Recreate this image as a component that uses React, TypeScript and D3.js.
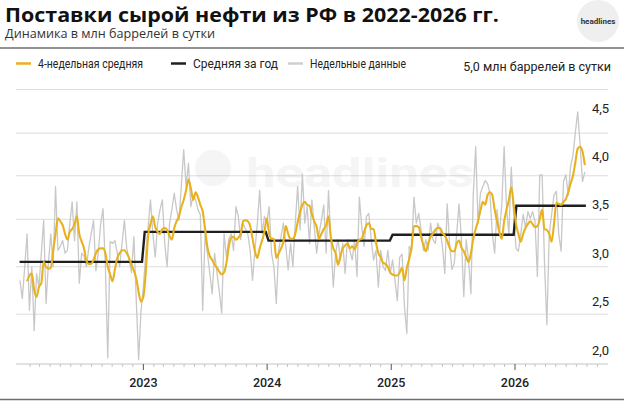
import React, { useEffect, useRef } from "react";
import * as d3 from "d3";

const W = 624;
const H = 405;

// annual averages (black step line)
const years = [2022, 2023, 2024, 2025, 2026];
const yearAvg = [2.91, 3.22, 3.13, 3.19, 3.49];

const axisYears = [2023, 2024, 2025, 2026];
const yTicks = [2.0, 2.5, 3.0, 3.5, 4.0, 4.5];
// gridlines sit a bit off the labels in the original
const gridValues = [4.69, 4.24, 3.8, 3.35, 2.86, 2.37];

// weekly data, first week = 2 Jan 2022
const weekly = [
  2.72, 2.53, 2.85, 3.2, 2.41, 2.86, 2.2, 2.79, 2.65, 3.0,
  3.34, 2.48, 2.9, 3.2, 2.86, 3.69, 3.03, 3.07, 3.13, 3.0,
  3.03, 3.3, 3.53, 3.13, 3.53, 2.69, 3.0, 2.97, 2.86, 3.05,
  3.2, 3.34, 2.82, 3.0, 3.3, 3.46, 2.86, 1.92, 3.12, 3.1,
  3.13, 3.0, 2.86, 3.1, 3.34, 3.05, 2.93, 2.8, 3.17, 2.52,
  1.9, 2.4, 2.65, 3.0, 3.27, 3.55, 3.2, 2.96, 3.3, 3.45,
  3.55, 3.1, 2.86, 3.3, 3.45, 3.62, 3.45, 3.34, 3.7, 4.07,
  3.69, 3.93, 3.48, 3.6, 3.55, 3.45, 3.4, 2.41, 3.2, 3.0,
  2.79, 2.58, 3.0, 2.8, 2.6, 2.38, 3.2, 2.96, 3.15, 3.2,
  3.03, 3.48, 3.38, 3.14, 3.31, 3.25, 3.2, 3.03, 2.72, 3.03,
  3.3, 3.65, 3.2, 3.38, 3.31, 3.48, 3.0, 2.86, 2.48, 3.03,
  3.17, 3.31, 3.07, 2.83, 3.1, 2.86, 3.31, 3.69, 3.24, 3.82,
  3.31, 3.48, 3.1, 3.55, 3.27, 3.0, 3.2, 3.34, 3.5, 3.0,
  3.65, 3.14, 2.65, 3.0, 3.14, 2.93, 3.1, 2.79, 3.14, 3.03,
  2.93, 3.14, 2.76, 3.58, 3.27, 3.07, 3.38, 3.41, 3.14, 2.93,
  3.03, 2.65, 3.03, 2.86, 2.82, 3.03, 2.79, 2.93, 2.72, 2.51,
  2.96, 2.99, 2.45, 2.17, 3.07, 3.03, 3.58, 3.31, 3.41, 3.24,
  3.03, 3.14, 3.03, 3.31, 3.14, 3.1, 3.31, 3.24, 3.07, 2.79,
  3.51, 3.1, 2.83, 2.9, 3.2, 3.51, 3.14, 2.55, 3.14, 2.93,
  2.58, 3.62, 4.1, 3.31, 3.62, 3.69, 3.75, 3.72, 3.62, 3.2,
  3.0, 3.45, 3.2, 3.5, 4.1, 3.46, 3.2, 3.89, 3.4, 3.05,
  3.02, 3.2, 3.4, 3.26, 3.43, 3.36, 3.43, 3.33, 2.76, 3.81,
  3.81, 2.9, 2.26, 3.2, 3.4, 3.6, 3.64, 3.2, 3.02, 3.74,
  3.81, 3.6, 3.9, 4.01, 4.25, 4.46, 4.12, 3.74, 3.84,
];

// 4-week average, starts at the 4th week
const avgStartWeek = 3;
const avg4w = [
  2.71, 2.77, 2.79, 2.62, 2.55, 2.65, 2.69, 2.91, 2.86, 2.84,
  2.85, 3.03, 3.2, 3.36, 3.33, 3.29, 3.2, 3.14, 3.22, 3.25,
  3.3, 3.38, 3.2, 3.12, 3.05, 2.92, 2.89, 2.89, 2.93, 3.0,
  3.04, 3.05, 3.05, 3.0, 2.86, 2.78, 2.71, 2.83, 2.95, 3.0,
  3.03, 3.03, 3.0, 2.95, 2.88, 2.82, 2.74, 2.6, 2.5, 2.55,
  2.8, 3.18, 3.3, 3.38, 3.27, 3.22, 3.2, 3.25, 3.26, 3.24,
  3.18, 3.14, 3.26, 3.33, 3.38, 3.48, 3.55, 3.65, 3.76, 3.67,
  3.55, 3.63, 3.58, 3.5, 3.43, 3.25, 3.06, 2.97, 2.93, 2.88,
  2.85, 2.81, 2.78, 2.8, 2.9, 3.07, 3.16, 3.17, 3.14, 3.16,
  3.2, 3.33, 3.34, 3.33, 3.28, 3.15, 3.02, 2.95, 3.05, 3.13,
  3.22, 3.36, 3.2, 3.15, 3.15, 2.95, 3.0, 3.05, 3.12, 3.28,
  3.2, 3.15, 3.15, 3.2, 3.32, 3.42, 3.5, 3.53, 3.5, 3.49,
  3.4, 3.33, 3.27, 3.15, 3.2, 3.25, 3.29, 3.38, 3.16, 3.05,
  3.0, 2.88, 2.97, 3.05, 3.08, 3.1, 3.05, 3.07, 3.04, 3.1,
  3.14, 3.15, 3.22, 3.29, 3.31, 3.25, 3.25, 3.11, 3.0, 2.96,
  2.9, 2.89, 2.86, 2.8, 2.78, 2.77, 2.77, 2.8, 2.85, 2.72,
  2.85, 2.94, 3.06, 3.28, 3.28, 3.27, 3.17, 3.08, 3.02, 3.1,
  3.17, 3.2, 3.24, 3.26, 3.26, 3.21, 3.18, 3.13, 3.06, 3.02,
  3.02, 3.1, 3.13, 3.06, 3.02, 2.96, 2.91, 3.0, 3.15, 3.25,
  3.33, 3.44, 3.53, 3.5, 3.6, 3.63, 3.6, 3.45, 3.33, 3.22,
  3.15, 3.33, 3.45, 3.55, 3.68, 3.5, 3.3, 3.2, 3.12, 3.2,
  3.26, 3.3, 3.33, 3.3, 3.27, 3.28, 3.35, 3.45, 3.25, 3.24,
  3.2, 3.12, 3.3, 3.52, 3.51, 3.5, 3.53, 3.56, 3.63, 3.72,
  3.8, 3.94, 4.08, 4.1, 4.05, 3.91,
];

const legendItems = [
  { label: "4-недельная средняя", color: "#e8b11e" },
  { label: "Средняя за год", color: "#1f1f1f" },
  { label: "Недельные данные", color: "#cfcfcf" },
];

const YELLOW = "#e8b11e";
const BLACK = "#1f1f1f";
const GREY = "#c8c8c8";
const FONT = "Roboto, 'Noto Sans', sans-serif";
const HEAD_FONT = "'Open Sans', 'Noto Sans', sans-serif";

const App = () => {
  const ref: any = useRef();

  const plotLeft = 16;
  const plotRight = 608;
  const axisY = 364;

  useEffect(() => {
    const svg = d3.select(ref.current);
    svg.selectAll("*").remove();

    const firstWeek = new Date(2022, 0, 2);
    const weekDate = (i: number) => d3.timeDay.offset(firstWeek, i * 7);

    const x = d3
      .scaleTime()
      .domain([new Date(2022, 0, 1), new Date(2026, 0, 1)])
      .range([19.6, 515]);

    const y = d3.scaleLinear().domain([2, 4.5]).range([350, 108]);

    // header
    svg
      .append("text")
      .attr("x", 5)
      .attr("y", 22)
      .attr("font-family", HEAD_FONT)
      .attr("font-weight", 700)
      .attr("font-size", 20)
      .attr("fill", "#111")
      .attr("textLength", 494)
      .attr("lengthAdjust", "spacingAndGlyphs")
      .text("Поставки сырой нефти из РФ в 2022-2026 гг.");

    svg
      .append("text")
      .attr("x", 5)
      .attr("y", 37.5)
      .attr("font-family", HEAD_FONT)
      .attr("font-size", 13)
      .attr("fill", "#333")
      .attr("textLength", 210)
      .attr("lengthAdjust", "spacingAndGlyphs")
      .text("Динамика в млн баррелей в сутки");

    // logo
    svg.append("circle").attr("cx", 598).attr("cy", 21).attr("r", 21).attr("fill", "#efefef");
    svg
      .append("text")
      .attr("x", 598)
      .attr("y", 24)
      .attr("text-anchor", "middle")
      .attr("font-family", FONT)
      .attr("font-weight", 700)
      .attr("font-size", 8)
      .attr("fill", "#333")
      .text("headlines");

    svg
      .append("line")
      .attr("x1", 0)
      .attr("x2", W)
      .attr("y1", 48)
      .attr("y2", 48)
      .attr("stroke", "#6f6f6f")
      .attr("stroke-width", 1.5);

    // legend
    const legendX = [16, 171, 288];
    const legendW = [105, 85, 96];
    const lg = svg.append("g").attr("font-family", FONT).attr("font-size", 12).attr("fill", "#222");
    legendItems.forEach((d, i) => {
      lg.append("line")
        .attr("x1", legendX[i])
        .attr("x2", legendX[i] + 15)
        .attr("y1", 63.5)
        .attr("y2", 63.5)
        .attr("stroke", d.color)
        .attr("stroke-width", 2.5);
      lg.append("text")
        .attr("x", legendX[i] + 22)
        .attr("y", 67.5)
        .attr("textLength", legendW[i])
        .attr("lengthAdjust", "spacingAndGlyphs")
        .text(d.label);
    });
    lg.append("text")
      .attr("x", 611)
      .attr("y", 71)
      .attr("text-anchor", "end")
      .attr("font-size", 12.5)
      .text("5,0 млн баррелей в сутки");

    // gridlines
    svg
      .append("g")
      .selectAll("line")
      .data(gridValues)
      .join("line")
      .attr("x1", plotLeft)
      .attr("x2", plotRight)
      .attr("y1", (d) => y(d))
      .attr("y2", (d) => y(d))
      .attr("stroke", "#dcdcdc")
      .attr("stroke-width", 1);

    // faint watermark
    const wm = svg.append("g").attr("opacity", 0.035);
    wm.append("circle").attr("cx", 213).attr("cy", 168).attr("r", 18).attr("fill", "#000");
    wm.append("text")
      .attr("x", 246)
      .attr("y", 187)
      .attr("font-family", FONT)
      .attr("font-weight", 700)
      .attr("font-size", 40)
      .attr("fill", "#000")
      .attr("textLength", 228)
      .attr("lengthAdjust", "spacingAndGlyphs")
      .text("headlines");

    // y labels
    svg
      .append("g")
      .selectAll("text")
      .data(yTicks)
      .join("text")
      .attr("x", 592)
      .attr("y", (d) => y(d))
      .attr("dy", "0.36em")
      .attr("font-family", FONT)
      .attr("font-size", 13)
      .attr("fill", "#222")
      .text((d) => d.toFixed(1).replace(".", ","));

    // x axis
    const ax = svg.append("g");
    ax.append("line")
      .attr("x1", plotLeft)
      .attr("x2", plotRight)
      .attr("y1", axisY)
      .attr("y2", axisY)
      .attr("stroke", "#c4c4c4");
    const months = d3.timeMonth.range(new Date(2022, 1, 1), new Date(2026, 8, 2));
    ax.selectAll("line.tick")
      .data(months)
      .join("line")
      .attr("class", "tick")
      .attr("x1", (d) => x(d))
      .attr("x2", (d) => x(d))
      .attr("y1", axisY)
      .attr("y2", (d) => axisY + (d.getMonth() === 0 ? 6 : 3))
      .attr("stroke", (d) => (d.getMonth() === 0 ? "#555" : "#c4c4c4"));
    ax.selectAll("text")
      .data(axisYears)
      .join("text")
      .attr("x", (d) => x(new Date(d, 0, 1)))
      .attr("y", 387)
      .attr("text-anchor", "middle")
      .attr("font-family", FONT)
      .attr("font-weight", 500)
      .attr("font-size", 12.5)
      .attr("fill", "#222")
      .text((d) => d);

    // weekly data
    const weeklyLine = d3
      .line<number>()
      .x((_, i) => x(weekDate(i)))
      .y((d) => y(d));
    svg
      .append("path")
      .datum(weekly)
      .attr("d", weeklyLine)
      .attr("fill", "none")
      .attr("stroke", GREY)
      .attr("stroke-width", 1.3)
      .attr("stroke-linejoin", "round");

    // annual average steps
    const lastDate = new Date(2026, 6, 29);
    const stepPts: [Date, number][] = years.flatMap((yr, k) => {
      const start = k === 0 ? new Date(2022, 0, 1) : new Date(yr, 0, 5);
      const end = k === years.length - 1 ? lastDate : new Date(yr, 11, 28);
      return [
        [start, yearAvg[k]],
        [end, yearAvg[k]],
      ] as [Date, number][];
    });
    svg
      .append("path")
      .datum(stepPts)
      .attr(
        "d",
        d3
          .line<[Date, number]>()
          .x((d) => x(d[0]))
          .y((d) => y(d[1]))
      )
      .attr("fill", "none")
      .attr("stroke", BLACK)
      .attr("stroke-width", 2.4);

    // 4-week average
    const avgLine = d3
      .line<number>()
      .x((_, i) => x(weekDate(i + avgStartWeek)))
      .y((d) => y(d))
      .curve(d3.curveMonotoneX);
    svg
      .append("path")
      .datum(avg4w)
      .attr("d", avgLine)
      .attr("fill", "none")
      .attr("stroke", YELLOW)
      .attr("stroke-width", 2.1)
      .attr("stroke-linejoin", "round");

    // bottom rule
    svg
      .append("line")
      .attr("x1", 0)
      .attr("x2", W)
      .attr("y1", 399.5)
      .attr("y2", 399.5)
      .attr("stroke", "#6f6f6f")
      .attr("stroke-width", 1.5);
  }, []);

  return (
    <svg
      ref={ref}
      width={W}
      height={H}
      style={{ position: "absolute", left: 0, top: 0, background: "#fff" }}
    ></svg>
  );
};

export default App;
